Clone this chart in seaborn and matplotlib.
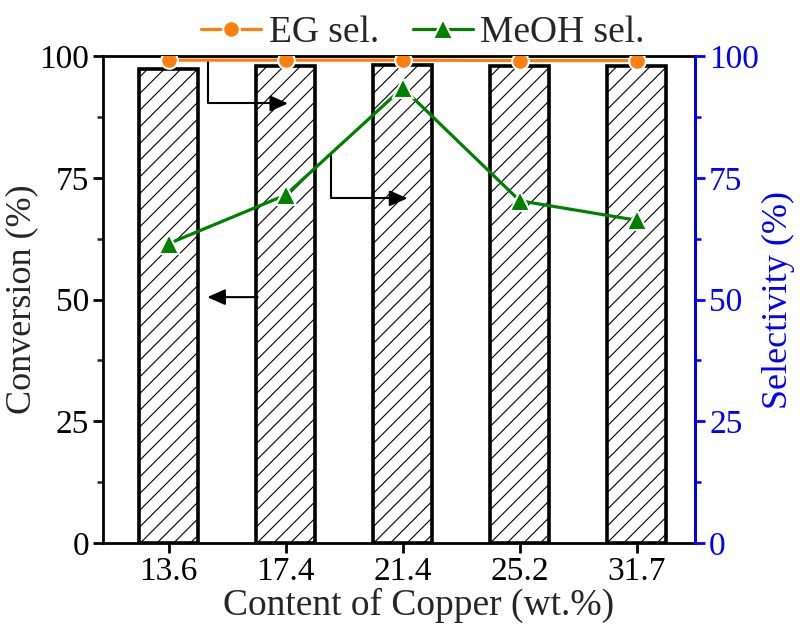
import numpy as np
import pandas as pd
import seaborn as sns
import matplotlib.pyplot as plt

copper = ['13.6', '17.4', '21.4', '25.2', '31.7']
conversion = [97.3, 98.0, 98.1, 98.0, 98.0]
eg_sel = [99.2, 99.2, 99.2, 99.1, 99.1]
meoh_sel = [61.5, 71.5, 93.5, 70.3, 66.3]

sns.set_theme(style='white')
plt.rcParams['font.family'] = ['Liberation Serif', 'DejaVu Serif']
plt.rcParams['hatch.linewidth'] = 0.8

fig = plt.figure(figsize=(8, 6.32), dpi=100)
ax = fig.add_axes([0.129, 0.141, 0.74, 0.77])

df = pd.DataFrame({'copper': copper, 'conv': conversion})
sns.barplot(data=df, x='copper', y='conv', ax=ax, width=0.5,
            color='white', edgecolor='black', linewidth=2.6, hatch='//')
for p in ax.patches:
    p.set_hatch('//')

ax.set_xlim(-0.56, 4.5)
ax.set_ylim(0, 100)
ax.set_yticks([0, 25, 50, 75, 100])
ax.set_yticks([12.5, 37.5, 62.5, 87.5], minor=True)
ax.set_xlabel('Content of Copper (wt.%)', fontsize=27, labelpad=0)
ax.xaxis.label.set_x(0.533)
ax.set_ylabel('Conversion (%)', fontsize=26, labelpad=1)
ax.tick_params(axis='both', which='major', labelsize=24, direction='out',
               length=7, width=2, colors='black', left=True, bottom=True, pad=3)
ax.tick_params(axis='y', which='minor', direction='out', length=4, width=1.8, left=True)
for s in ax.spines.values():
    s.set_linewidth(2)
    s.set_color('black')

ax2 = ax.twinx()
pos = np.arange(len(copper))
sns.lineplot(x=pos, y=eg_sel, ax=ax2, color='#ff7f0e', marker='o', markersize=12,
             markeredgecolor='white', markeredgewidth=1.5, linewidth=2.3, label='EG sel.')
sns.lineplot(x=pos, y=meoh_sel, ax=ax2, color='#008000', marker='^', markersize=14,
             markeredgecolor='white', markeredgewidth=1.5, linewidth=2.3, label='MeOH sel.')
ax2.set_ylim(0, 100)
ax2.set_yticks([0, 25, 50, 75, 100])
ax2.set_yticks([12.5, 37.5, 62.5, 87.5], minor=True)
ax2.set_ylabel('Selectivity (%)', fontsize=26, color='blue', labelpad=2)
ax2.tick_params(axis='y', which='major', labelsize=24, direction='out', length=7,
                width=2, colors='blue', right=True, pad=3)
ax2.tick_params(axis='y', which='minor', direction='out', length=4, width=1.8,
                colors='blue', right=True)
ax2.spines['right'].set_color('blue')
ax2.spines['right'].set_linewidth(2)
for s in ['top', 'left', 'bottom']:
    ax2.spines[s].set_visible(False)

ax2.legend(loc='lower center', bbox_to_anchor=(0.54, 0.975), ncol=2, frameon=False,
           fontsize=27, handlelength=1.6, handletextpad=0.2, columnspacing=0.9,
           borderpad=0.0)

# elbow arrows pointing to the axis each series belongs to
head = '-|>,head_length=0.9,head_width=0.4'
arw = dict(arrowstyle=head, color='black', lw=1.5,
           connectionstyle='angle,angleA=90,angleB=0,rad=0', shrinkA=0, shrinkB=0)
ax.annotate('', xy=(1.02, 90.3), xytext=(0.34, 99.0), arrowprops=arw)
ax.annotate('', xy=(2.04, 70.8), xytext=(1.385, 79.7), arrowprops=arw)
ax.annotate('', xy=(0.33, 50.5), xytext=(0.76, 50.5),
            arrowprops=dict(arrowstyle=head, color='black', lw=1.5, shrinkA=0, shrinkB=0))

fig.savefig('out.png', dpi=100)
